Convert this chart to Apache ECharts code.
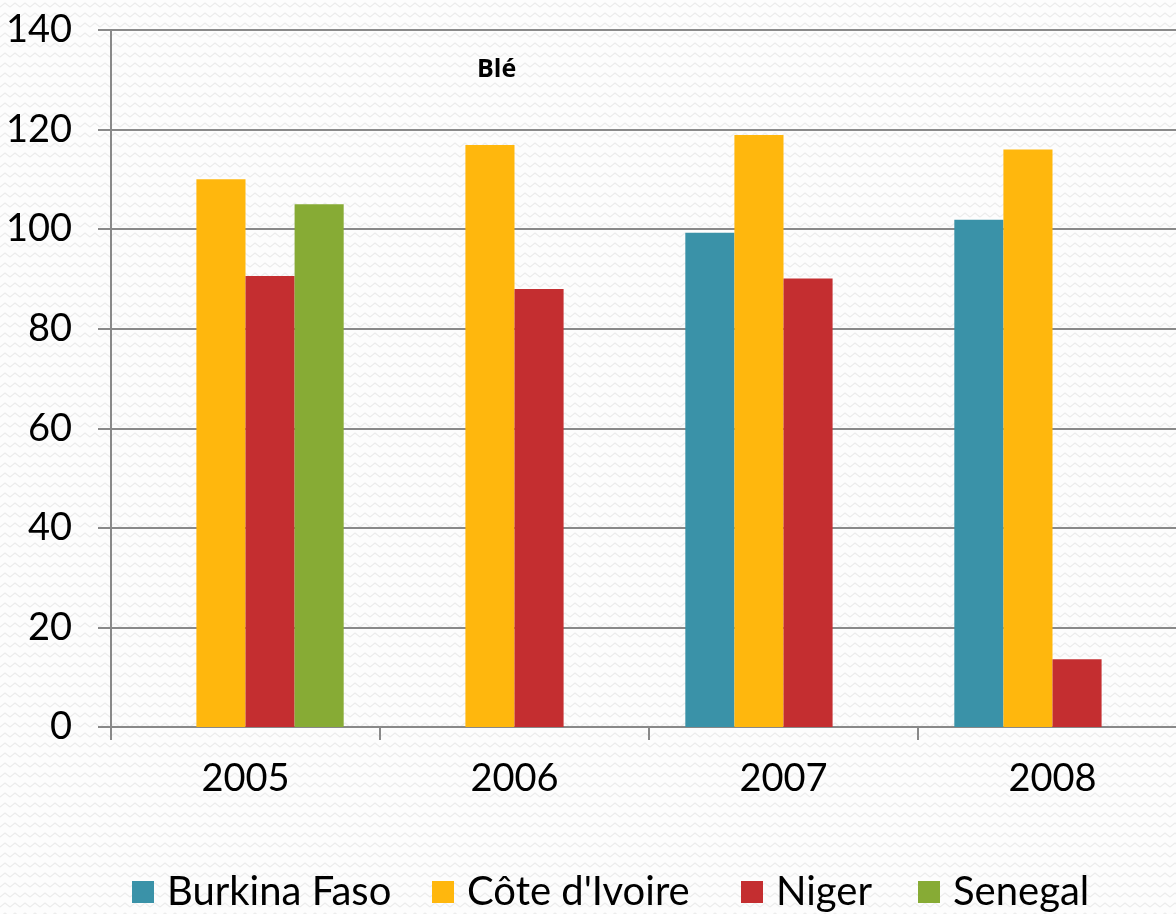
<!DOCTYPE html>
<html><head><meta charset="utf-8">
<script src="https://cdn.jsdelivr.net/npm/echarts@6/dist/echarts.min.js"></script>
<style>html,body{margin:0;padding:0;background:#f8f8f8}#c{width:1176px;height:914px}</style>
</head><body><div id="c"></div>
<script>
const categories = ['2005', '2006', '2007', '2008'];
const burkinaFaso = [null, null, 99.3, 101.9];
const coteIvoire = [110.0, 116.9, 118.9, 116.0];
const niger = [90.6, 88.0, 90.1, 13.6];
const senegal = [105.0, null, null, null];
const seriesNames = ['Burkina Faso', "Côte d'Ivoire", 'Niger', 'Senegal'];
const colors = ['#3A92A8', '#FFB70D', '#C42E30', '#87AB35'];
const titleText = 'Blé';

const font = 'Lato';
// subtle zigzag background texture
const pc = document.createElement('canvas');
pc.width = 10; pc.height = 10;
const g = pc.getContext('2d');
g.fillStyle = '#fdfdfd'; g.fillRect(0, 0, 10, 10);
g.strokeStyle = '#ececec'; g.lineWidth = 1.2;
g.beginPath(); g.moveTo(0, 7); g.lineTo(5, 3); g.lineTo(10, 7); g.stroke();

const legendLeft = [132, 432, 741, 918];
const chart = echarts.init(document.getElementById('c'));
const dataSets = [burkinaFaso, coteIvoire, niger, senegal];
chart.setOption({
  backgroundColor: { image: pc, repeat: 'repeat' },
  animation: false,
  title: { text: titleText, left: 472, top: 52, textStyle: { fontFamily: 'Open Sans', fontSize: 25, fontWeight: 'bold', color: '#000' } },
  legend: seriesNames.map((n, i) => ({
    data: [n], left: legendLeft[i], top: 870, padding: 0, itemWidth: 22, itemHeight: 22, icon: 'rect',
    textStyle: { fontFamily: font, fontSize: 40, lineHeight: 44, color: '#000', padding: [0, 0, 0, 8] }
  })),
  grid: { left: 111, width: 1076, top: 30, bottom: 187, containLabel: false, outerBoundsMode: 'none' },
  xAxis: {
    type: 'category', data: categories,
    axisLine: { lineStyle: { color: '#898989', width: 2 } },
    axisTick: { show: true, length: 13, lineStyle: { color: '#898989', width: 2 } },
    axisLabel: { fontFamily: font, fontSize: 38, color: '#000', margin: 33 }
  },
  yAxis: {
    type: 'value', min: 0, max: 140, interval: 20,
    axisLine: { show: true, lineStyle: { color: '#898989', width: 2 } },
    axisTick: { show: true, length: 13, lineStyle: { color: '#898989', width: 2 } },
    splitLine: { lineStyle: { color: '#898989', width: 2 } },
    axisLabel: { fontFamily: font, fontSize: 38, color: '#000', margin: 39 }
  },
  series: seriesNames.map((n, i) => ({
    name: n, type: 'bar', data: dataSets[i], barGap: '0%', barCategoryGap: '27%',
    itemStyle: { color: colors[i] }
  }))
});
</script></body></html>
